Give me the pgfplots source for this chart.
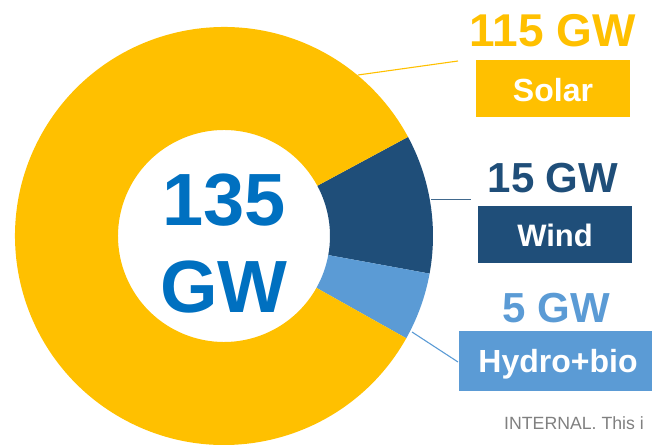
\documentclass[border=0pt]{standalone}
\usepackage{pgfplots}
\usepackage{pgfplotstable}
\pgfplotsset{compat=1.18}
\usepackage{fontspec}
\setmainfont{Liberation Sans}
\definecolor{solarc}{HTML}{FFC000}
\definecolor{windc}{HTML}{1F4E79}
\definecolor{hydroc}{HTML}{5B9BD5}
\definecolor{totalc}{HTML}{0070C0}
\definecolor{grayc}{HTML}{808080}

\pgfplotstableread{
name value
Wind 14.5
Hydro 7.1
Solar 113.4
}\datatable

\newcommand{\fs}[1]{\fontsize{#1}{#1}\selectfont\bfseries}

\begin{document}
\begin{tikzpicture}
\useasboundingbox (0,0) rectangle (652pt,444pt);
\pgfplotstablegetelem{0}{value}\of\datatable \pgfmathsetmacro{\vA}{\pgfplotsretval}
\pgfplotstablegetelem{1}{value}\of\datatable \pgfmathsetmacro{\vB}{\pgfplotsretval}
\pgfplotstablegetelem{2}{value}\of\datatable \pgfmathsetmacro{\vC}{\pgfplotsretval}
\pgfmathsetmacro{\tot}{\vA+\vB+\vC}
\pgfmathsetmacro{\aA}{28.3}
\pgfmathsetmacro{\aB}{\aA-\vA/\tot*360}
\pgfmathsetmacro{\aC}{\aB-\vB/\tot*360}
\pgfmathsetmacro{\aD}{\aC-\vC/\tot*360}
\def\cx{224}\def\cy{208}\def\Ro{209}\def\Ri{106}
\newcommand{\slice}[3]{%
  \fill[#1] (axis cs:{\cx+\Ri*cos(#2)},{\cy+\Ri*sin(#2)}) --
    (axis cs:{\cx+\Ro*cos(#2)},{\cy+\Ro*sin(#2)})
    arc[start angle=#2, end angle=#3, radius=\Ro pt] --
    (axis cs:{\cx+\Ri*cos(#3)},{\cy+\Ri*sin(#3)})
    arc[start angle=#3, end angle=#2, radius=\Ri pt] -- cycle;}
\begin{axis}[at={(0,0)}, anchor=south west, width=652pt, height=444pt,
  scale only axis, xmin=0, xmax=652, ymin=0, ymax=444, hide axis]
\slice{windc}{\aA}{\aB}
\slice{hydroc}{\aB}{\aC}
\slice{solarc}{\aC}{\aD}
% leader lines
\draw[solarc, line width=1.1pt] (axis cs:358,369) -- (axis cs:458,383);
\draw[windc!85!white, line width=1.1pt] (axis cs:431,244.5) -- (axis cs:471,244.5);
\draw[hydroc, line width=1.1pt] (axis cs:412,112) -- (axis cs:458,82);
% boxes
\fill[solarc] (axis cs:476,327) rectangle (axis cs:630,384);
\fill[windc] (axis cs:478,181) rectangle (axis cs:632,238);
\fill[hydroc] (axis cs:459,53) rectangle (axis cs:653,113);
% labels
\node[anchor=base, text=solarc, font=\fs{46}, inner sep=0pt] at (axis cs:553,397) {115 GW};
\node[anchor=base, text=white, font=\fs{32}, inner sep=0pt] at (axis cs:553,342) {Solar};
\node[anchor=base, text=windc, font=\fs{42}, inner sep=0pt] at (axis cs:553,251) {15 GW};
\node[anchor=base, text=white, font=\fs{31}, inner sep=0pt] at (axis cs:555,197) {Wind};
\node[anchor=base, text=hydroc, font=\fs{42}, inner sep=0pt] at (axis cs:556,121) {5 GW};
\node[anchor=base, text=white, font=\fs{32}, inner sep=0pt] at (axis cs:558,71) {Hydro+bio};
\node[anchor=base, text=totalc, font=\fs{74}, inner sep=0pt] at (axis cs:224,218) {135};
\node[anchor=base, text=totalc, font=\fs{74}, inner sep=0pt] at (axis cs:224,131) {GW};
\node[anchor=base west, text=grayc, font=\fontsize{17.7}{17.7}\selectfont, inner sep=0pt] at (axis cs:504,15) {INTERNAL. This i};
\end{axis}
\end{tikzpicture}
\end{document}
